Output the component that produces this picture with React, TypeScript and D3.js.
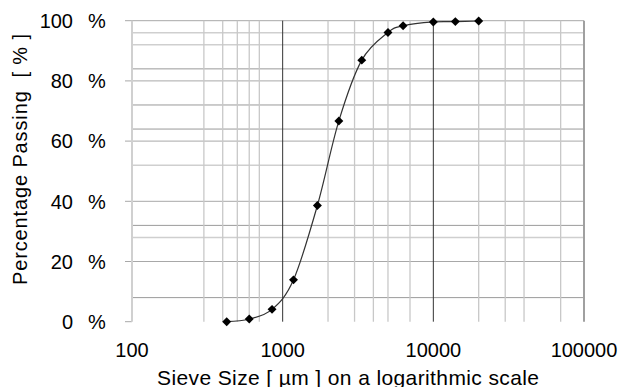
import { useEffect, useRef } from "react";
import * as d3 from "d3";

// sieve analysis: sieve size (µm) vs percentage passing
const sieveSizes = [425, 600, 850, 1180, 1700, 2360, 3350, 5000, 6300, 10000, 14000, 20000];
const passing = [0, 0.9, 4.1, 13.9, 38.6, 66.7, 86.9, 96.1, 98.3, 99.6, 99.7, 99.9];

const xTicks = [100, 1000, 10000, 100000];
const yTicks = [0, 20, 40, 60, 80, 100];

// extra grid lines seen in the picture
const minorX = [300, 400, 500, 600, 700, 2000, 3000, 4000, 5000, 7000, 20000, 30000, 40000, 70000];
const darkY = [84, 72, 64, 32, 8];
const lightY = [96, 92, 52, 28];

const App = () => {
  const ref = useRef<SVGSVGElement>(null);

  useEffect(() => {
    const width = 619;
    const height = 387;
    const margin = { top: 20.7, right: 35, bottom: 65.3, left: 132 };

    const svg = d3.select(ref.current);
    svg.selectAll("*").remove();

    const x = d3
      .scaleLog()
      .domain([100, 100000])
      .range([margin.left, width - margin.right]);
    const y = d3
      .scaleLinear()
      .domain([0, 100])
      .range([height - margin.bottom, margin.top]);

    const font = "'Liberation Sans', Arial, sans-serif";
    const [x0, x1] = x.range();
    const [yb, yt] = y.range();

    // horizontal grid
    svg
      .append("g")
      .selectAll("line")
      .data(lightY)
      .enter()
      .append("line")
      .attr("x1", x0)
      .attr("x2", x1)
      .attr("y1", (d) => y(d))
      .attr("y2", (d) => y(d))
      .style("stroke", "#cfcfcf")
      .style("stroke-width", 1.5);

    svg
      .append("g")
      .selectAll("line")
      .data(darkY)
      .enter()
      .append("line")
      .attr("x1", x0)
      .attr("x2", x1)
      .attr("y1", (d) => y(d))
      .attr("y2", (d) => y(d))
      .style("stroke", "#9a9a9a")
      .style("stroke-width", 1);

    svg
      .append("g")
      .selectAll("line")
      .data(yTicks.filter((d) => d > 0))
      .enter()
      .append("line")
      .attr("x1", x0 - 7)
      .attr("x2", x1)
      .attr("y1", (d) => y(d))
      .attr("y2", (d) => y(d))
      .style("stroke", "#a8a8a8")
      .style("stroke-width", 1);

    // zero tick only, no bottom axis line
    svg
      .append("line")
      .attr("x1", x0 - 7)
      .attr("x2", x0)
      .attr("y1", y(0))
      .attr("y2", y(0))
      .style("stroke", "#a8a8a8");

    // vertical grid
    svg
      .append("g")
      .selectAll("line")
      .data(minorX)
      .enter()
      .append("line")
      .attr("x1", (d) => x(d))
      .attr("x2", (d) => x(d))
      .attr("y1", yt)
      .attr("y2", yb)
      .style("stroke", "#c8c8c8")
      .style("stroke-width", 1.3);

    svg
      .append("line")
      .attr("x1", x0)
      .attr("x2", x0)
      .attr("y1", yt)
      .attr("y2", yb)
      .style("stroke", "#d0d0d0")
      .style("stroke-width", 2);

    svg
      .append("line")
      .attr("x1", x1)
      .attr("x2", x1)
      .attr("y1", yt)
      .attr("y2", yb)
      .style("stroke", "#a0a0a0")
      .style("stroke-width", 2);

    svg
      .append("g")
      .selectAll("line")
      .data([1000, 10000])
      .enter()
      .append("line")
      .attr("x1", (d) => x(d))
      .attr("x2", (d) => x(d))
      .attr("y1", yt)
      .attr("y2", yb)
      .style("stroke", "#333")
      .style("stroke-width", 1);

    // y tick labels
    const yl = svg.append("g").style("font-family", font).style("font-size", "20px").style("fill", "#000");
    yl.selectAll("text.num")
      .data(yTicks)
      .enter()
      .append("text")
      .attr("class", "num")
      .attr("x", 73)
      .attr("y", (d) => y(d))
      .attr("dy", "0.36em")
      .attr("text-anchor", "end")
      .text((d) => d);
    yl.selectAll("text.pct")
      .data(yTicks)
      .enter()
      .append("text")
      .attr("class", "pct")
      .attr("x", 88)
      .attr("y", (d) => y(d))
      .attr("dy", "0.36em")
      .text("%");

    // x tick labels
    svg
      .append("g")
      .style("font-family", font)
      .style("font-size", "20px")
      .selectAll("text")
      .data(xTicks)
      .enter()
      .append("text")
      .attr("x", (d) => x(d))
      .attr("y", 356.5)
      .attr("text-anchor", "middle")
      .text((d) => d);

    // axis titles
    svg
      .append("text")
      .attr("x", 157)
      .attr("y", 385)
      .attr("textLength", 382)
      .attr("lengthAdjust", "spacing")
      .style("font-family", font)
      .style("font-size", "21px")
      .text("Sieve Size [ µm ] on a logarithmic scale");

    svg
      .append("text")
      .attr("transform", "translate(27,285) rotate(-90)")
      .attr("textLength", 251)
      .attr("lengthAdjust", "spacing")
      .attr("xml:space", "preserve")
      .style("font-family", font)
      .style("font-size", "20px")
      .style("white-space", "pre")
      .text("Percentage Passing  [ % ]");

    // curve
    const pts = sieveSizes.map((s, i) => [s, passing[i]] as [number, number]);
    const line = d3
      .line<[number, number]>()
      .x((d) => x(d[0]))
      .y((d) => y(d[1]))
      .curve(d3.curveCardinal.tension(0));

    svg
      .append("path")
      .attr("d", line(pts))
      .style("fill", "none")
      .style("stroke", "#333")
      .style("stroke-width", 1.2);

    const marker = d3.symbol().type(d3.symbolSquare).size(40);
    svg
      .append("g")
      .selectAll("path")
      .data(pts)
      .enter()
      .append("path")
      .attr("d", marker)
      .attr("transform", (d) => `translate(${x(d[0])},${y(d[1])}) rotate(45)`)
      .style("fill", "#000");
  }, []);

  return (
    <svg
      ref={ref}
      width={619}
      height={387}
      style={{ position: "absolute", left: 0, top: 0, background: "#fff" }}
    />
  );
};

export default App;
